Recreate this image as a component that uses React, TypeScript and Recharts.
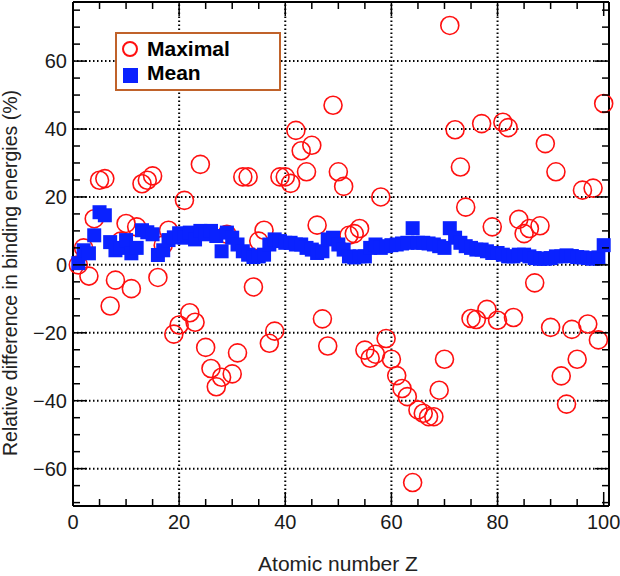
import { ScatterChart, Scatter, XAxis, YAxis, ReferenceLine } from 'recharts';

// atomic number Z on the x axis
const atomicNumbers = [
  1, 2, 3, 4, 5, 6, 7, 8, 9, 10, 11, 12, 13, 14, 15, 16, 17, 18, 19, 20,
  21, 22, 23, 24, 25, 26, 27, 28, 29, 30, 31, 32, 33, 34, 35, 36, 37, 38, 39, 40,
  41, 42, 43, 44, 45, 46, 47, 48, 49, 50, 51, 52, 53, 54, 55, 56, 57, 58, 59, 60,
  61, 62, 63, 64, 65, 66, 67, 68, 69, 70, 71, 72, 73, 74, 75, 76, 77, 78, 79, 80,
  81, 82, 83, 84, 85, 86, 87, 88, 89, 90, 91, 92, 93, 94, 95, 96, 97, 98, 99, 100,
];

// maximal relative difference (%) per Z
const maximalDiff = [
  0, 5, -3.3, 13.6, 24.9, 25.4, -12.1, -4.5, 7, 12.2,
  -7, 11.2, 23.9, 24.9, 26.2, -3.7, 5.8, 10.2, -20.4, -17.7,
  19, -14.1, -16.9, 29.6, -24.3, -30.5, -35.9, -33.1, 9, -32.1,
  -25.9, 25.9, 25.9, -6.5, 7, 10.2, -23.1, -19.5, 25.9, 25.9,
  24, 39.6, 33.6, 27.4, 35.2, 11.7, -15.9, -23.9, 47, 27.4,
  23.1, 8.7, 9.2, 10.7, -25.1, -27.5, -26.3, 20, -21.7, -27.8,
  -32.6, -36.4, -38.8, -64.1, -42.7, -43.7, -44.7, -44.7, -36.9, -27.8,
  70.5, 39.8, 28.8, 17, -15.8, -16.1, 41.6, -13.1, 11.2, -16.3,
  42, 40.4, -15.5, 13.4, 9.2, 10.7, -5.3, 11.5, 35.7, -18.4,
  27.4, -32.7, -41, -19, -27.8, 22, -17.4, 22.6, -22.1, 47.5,
];

// mean relative difference (%) per Z
const meanDiff = [
  0.5, 4.3, 3.4, 8.7, 15.5, 14.6, 6.7, 4.3, 5, 7.3,
  3.4, 5, 10.2, 9.6, 9, 2.9, 4.3, 7.3, 8.1, 9.3,
  8, 9.5, 7.5, 10, 9, 10, 8.5, 4, 9.5, 8,
  6, 4, 3, 2.3, 2.5, 3, 6, 7.5, 7, 6.5,
  6.5, 6, 6, 5, 4.5, 3.5, 4, 7.5, 8, 6,
  4.5, 2.5, 2.2, 2.5, 2.5, 5, 6, 5, 5.5, 5.8,
  6, 6.3, 6.5, 10.8, 6.5, 6.5, 6.3, 6, 5.5, 5,
  10.8, 8, 6.5, 5.5, 5, 4.5, 4.5, 4, 3.5, 3.5,
  3, 2.5, 2.5, 3, 3, 2.5, 2, 1.8, 1.8, 2,
  2.5, 2.5, 2.8, 2.6, 2.3, 2.2, 2, 1.8, 2.2, 5.8,
];

const xTicks = [0, 5, 10, 15, 20, 25, 30, 35, 40, 45, 50, 55, 60, 65, 70, 75, 80, 85, 90, 95, 100];
const yTicks = [-70, -65, -60, -55, -50, -45, -40, -35, -30, -25, -20, -15, -10, -5, 0, 5, 10, 15, 20, 25, 30, 35, 40, 45, 50, 55, 60, 65, 70, 75];
const gridX = [20, 40, 60, 80];
const gridY = [-60, -40, -20, 0, 20, 40, 60];

const FONT = '"Liberation Sans", Arial, Helvetica, sans-serif';
const RED = '#ff1010';
const BLUE = '#0a22ff';
const X_DOMAIN = [0, 101];
const Y_DOMAIN = [-71, 77.4];

const maximalData = atomicNumbers.map((z, i) => ({ z, v: maximalDiff[i] }));
const meanData = atomicNumbers.map((z, i) => ({ z, v: meanDiff[i] }));

const fmt = (v: number) => (v < 0 ? `\u2212${-v}` : `${v}`);
const isMajor = (v: number) => v % 20 === 0;

function BottomTick({ x, y, payload }: any) {
  const major = isMajor(payload.value);
  return (
    <g>
      <line x1={x} y1={y} x2={x} y2={y - (major ? 14 : 7)} stroke="#000" strokeWidth={1.5} />
      {major && (
        <text x={x} y={y + 23} textAnchor="middle" fontSize={20} fontFamily={FONT} fill="#1a1a1a">
          {payload.value}
        </text>
      )}
    </g>
  );
}

function TopTick({ x, y, payload }: any) {
  const major = isMajor(payload.value);
  return <line x1={x} y1={y} x2={x} y2={y + (major ? 14 : 7)} stroke="#000" strokeWidth={1.5} />;
}

function LeftTick({ x, y, payload }: any) {
  const major = isMajor(payload.value);
  return (
    <g>
      <line x1={x} y1={y} x2={x + (major ? 14 : 7)} y2={y} stroke="#000" strokeWidth={1.5} />
      {major && (
        <text x={x - 6} y={y + 7} textAnchor="end" fontSize={20} fontFamily={FONT} fill="#1a1a1a">
          {fmt(payload.value)}
        </text>
      )}
    </g>
  );
}

function RightTick({ x, y, payload }: any) {
  const major = isMajor(payload.value);
  return <line x1={x} y1={y} x2={x - (major ? 14 : 7)} y2={y} stroke="#000" strokeWidth={1.5} />;
}

function OpenCircle({ cx, cy }: any) {
  return <circle cx={cx} cy={cy} r={9} fill="none" stroke={RED} strokeWidth={1.6} />;
}

function FilledSquare({ cx, cy }: any) {
  return <rect x={cx - 7} y={cy - 7} width={14} height={14} fill={BLUE} />;
}

function NoMark() {
  return <g />;
}

function XTitle({ viewBox }: any) {
  return (
    <text x={viewBox.x + viewBox.width / 2 - 3} y={viewBox.y + 65} textAnchor="middle" fontSize={21} fontFamily={FONT} fill="#222">
      Atomic number Z
    </text>
  );
}

function YTitle({ viewBox }: any) {
  const x = viewBox.x + 17;
  const y = viewBox.y + viewBox.height / 2 + 19;
  return (
    <text x={x} y={y} transform={`rotate(-90, ${x}, ${y})`} textAnchor="middle" fontSize={19.5} fontFamily={FONT} fill="#222">
      Relative difference in binding energies (%)
    </text>
  );
}

function LegendBox() {
  return (
    <svg width={168} height={61} style={{ position: 'absolute', left: 114, top: 31 }}>
      <rect x={2} y={2} width={164} height={57} fill="#fff" stroke="#c0622a" strokeWidth={2} />
      <circle cx={16} cy={18} r={7} fill="none" stroke={RED} strokeWidth={2} />
      <text x={33} y={25} fontSize={21} fontWeight="bold" fontFamily={FONT} fill="#000">Maximal</text>
      <rect x={9} y={37} width={15} height={15} fill={BLUE} />
      <text x={33} y={49} fontSize={21} fontWeight="bold" fontFamily={FONT} fill="#000">Mean</text>
    </svg>
  );
}

export default function App() {
  const axisLine = { stroke: '#000', strokeWidth: 2 };
  return (
    <div style={{ position: 'absolute', left: 0, top: 0, width: 620, height: 576, background: '#fff' }}>
      <ScatterChart width={620} height={576} margin={{ top: 1, right: 10, bottom: 0, left: 0 }}>
        <XAxis
          type="number"
          dataKey="z"
          domain={X_DOMAIN}
          ticks={xTicks}
          interval={0}
          height={70}
          tickSize={0}
          tickMargin={0}
          tickLine={false}
          axisLine={axisLine}
          tick={<BottomTick />}
          label={<XTitle />}
        />
        <XAxis
          xAxisId="top"
          orientation="top"
          type="number"
          dataKey="z"
          domain={X_DOMAIN}
          ticks={xTicks}
          interval={0}
          height={1}
          tickSize={0}
          tickMargin={0}
          tickLine={false}
          axisLine={axisLine}
          tick={<TopTick />}
        />
        <YAxis
          type="number"
          dataKey="v"
          domain={Y_DOMAIN}
          ticks={yTicks}
          interval={0}
          width={73}
          tickSize={0}
          tickMargin={0}
          tickLine={false}
          axisLine={axisLine}
          tick={<LeftTick />}
          label={<YTitle />}
        />
        <YAxis
          yAxisId="right"
          orientation="right"
          type="number"
          dataKey="v"
          domain={Y_DOMAIN}
          ticks={yTicks}
          interval={0}
          width={1}
          tickSize={0}
          tickMargin={0}
          tickLine={false}
          axisLine={axisLine}
          tick={<RightTick />}
        />
        {gridX.map((g) => (
          <ReferenceLine key={`gx${g}`} x={g} stroke="#000" strokeWidth={2} strokeDasharray="1.5 2.5" />
        ))}
        {gridY.map((g) => (
          <ReferenceLine key={`gy${g}`} y={g} stroke="#000" strokeWidth={2} strokeDasharray="1.5 2.5" />
        ))}
        <Scatter xAxisId="top" yAxisId="right" data={meanData} shape={<NoMark />} isAnimationActive={false} legendType="none" />
        <Scatter name="Maximal" data={maximalData} shape={<OpenCircle />} isAnimationActive={false} />
        <Scatter name="Mean" data={meanData} shape={<FilledSquare />} isAnimationActive={false} />
      </ScatterChart>
      <LegendBox />
    </div>
  );
}
